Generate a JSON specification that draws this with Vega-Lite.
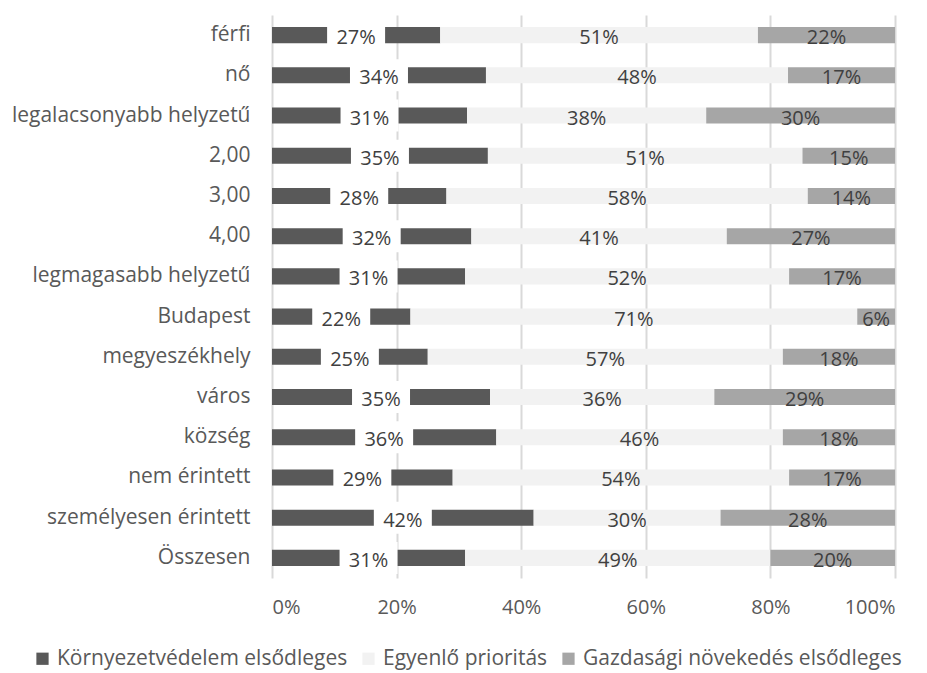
{
  "$schema": "https://vega.github.io/schema/vega-lite/v6.json",
  "width": 623,
  "height": 563,
  "autosize": "none",
  "padding": {"left": 272, "top": 15, "right": 32, "bottom": 95},
  "background": "white",
  "config": {"font": "Open Sans", "view": {"stroke": null}},
  "data": {
    "values": [
      {"cat": "férfi", "Környezetvédelem elsődleges": 27, "Egyenlő prioritás": 51, "Gazdasági növekedés elsődleges": 22},
      {"cat": "nő", "Környezetvédelem elsődleges": 34, "Egyenlő prioritás": 48, "Gazdasági növekedés elsődleges": 17},
      {"cat": "legalacsonyabb helyzetű", "Környezetvédelem elsődleges": 31, "Egyenlő prioritás": 38, "Gazdasági növekedés elsődleges": 30},
      {"cat": "2,00", "Környezetvédelem elsődleges": 35, "Egyenlő prioritás": 51, "Gazdasági növekedés elsődleges": 15},
      {"cat": "3,00", "Környezetvédelem elsődleges": 28, "Egyenlő prioritás": 58, "Gazdasági növekedés elsődleges": 14},
      {"cat": "4,00", "Környezetvédelem elsődleges": 32, "Egyenlő prioritás": 41, "Gazdasági növekedés elsődleges": 27},
      {"cat": "legmagasabb helyzetű", "Környezetvédelem elsődleges": 31, "Egyenlő prioritás": 52, "Gazdasági növekedés elsődleges": 17},
      {"cat": "Budapest", "Környezetvédelem elsődleges": 22, "Egyenlő prioritás": 71, "Gazdasági növekedés elsődleges": 6},
      {"cat": "megyeszékhely", "Környezetvédelem elsődleges": 25, "Egyenlő prioritás": 57, "Gazdasági növekedés elsődleges": 18},
      {"cat": "város", "Környezetvédelem elsődleges": 35, "Egyenlő prioritás": 36, "Gazdasági növekedés elsődleges": 29},
      {"cat": "község", "Környezetvédelem elsődleges": 36, "Egyenlő prioritás": 46, "Gazdasági növekedés elsődleges": 18},
      {"cat": "nem érintett", "Környezetvédelem elsődleges": 29, "Egyenlő prioritás": 54, "Gazdasági növekedés elsődleges": 17},
      {"cat": "személyesen érintett", "Környezetvédelem elsődleges": 42, "Egyenlő prioritás": 30, "Gazdasági növekedés elsődleges": 28},
      {"cat": "Összesen", "Környezetvédelem elsődleges": 31, "Egyenlő prioritás": 49, "Gazdasági növekedés elsődleges": 20}
    ]
  },
  "transform": [
    {"fold": ["Környezetvédelem elsődleges", "Egyenlő prioritás", "Gazdasági növekedés elsődleges"], "as": ["s", "v"]},
    {"calculate": "indexof(['Környezetvédelem elsődleges', 'Egyenlő prioritás', 'Gazdasági növekedés elsődleges'], datum.s)", "as": "o"},
    {"stack": "v", "groupby": ["cat"], "sort": [{"field": "o", "order": "ascending"}], "offset": "normalize", "as": ["x0", "x1"]},
    {"calculate": "(datum.x0 + datum.x1) / 2", "as": "mid"},
    {"calculate": "datum.v + '%'", "as": "lab"}
  ],
  "encoding": {
    "y": {
      "field": "cat", "type": "nominal", "sort": null,
      "scale": {"paddingInner": 0.6, "paddingOuter": 0.3},
      "axis": {"title": null, "domain": false, "ticks": false, "labelFontSize": 21, "labelColor": "#595959", "labelPadding": 22, "labelLimit": 300}
    }
  },
  "layer": [
    {
      "mark": {"type": "bar"},
      "encoding": {
        "x": {
          "field": "x0", "type": "quantitative", "scale": {"domain": [0, 1]},
          "axis": {"title": null, "format": "%", "values": [0, 0.2, 0.4, 0.6, 0.8, 1], "grid": true, "gridColor": "#d9d9d9", "gridWidth": 2, "domain": false, "ticks": false, "labelPadding": 19, "labelFontSize": 20, "labelColor": "#595959"}
        },
        "x2": {"field": "x1"},
        "color": {
          "field": "s", "type": "nominal",
          "scale": {"domain": ["Környezetvédelem elsődleges", "Egyenlő prioritás", "Gazdasági növekedés elsődleges"], "range": ["#595959", "#f2f2f2", "#a6a6a6"]},
          "legend": {"title": null, "orient": "none", "legendX": -240, "legendY": 633, "direction": "horizontal", "symbolType": "square", "symbolSize": 150, "symbolStrokeWidth": 0, "labelFontSize": 21, "labelColor": "#595959", "columnPadding": 10, "labelOffset": 4, "labelLimit": 400}
        }
      }
    },
    {
      "transform": [{"filter": "datum.o == 0"}],
      "mark": {"type": "tick", "color": "white", "thickness": 58, "size": 32, "opacity": 1},
      "encoding": {"x": {"field": "mid", "type": "quantitative"}}
    },
    {
      "mark": {"type": "text", "fontSize": 20, "color": "#404040", "baseline": "middle", "dy": 3},
      "encoding": {"x": {"field": "mid", "type": "quantitative"}, "text": {"field": "lab"}}
    }
  ]
}
